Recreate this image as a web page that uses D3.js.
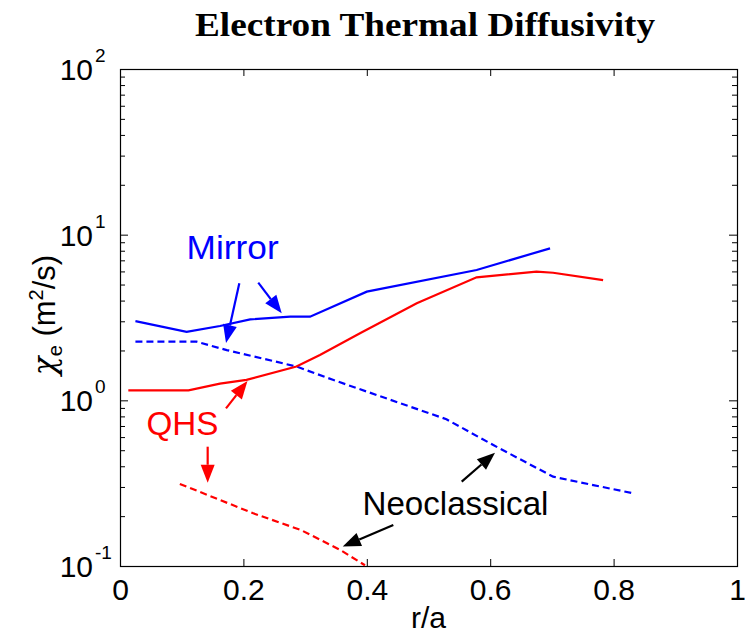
<!DOCTYPE html>
<html>
<head>
<meta charset="utf-8">
<script src="https://cdn.jsdelivr.net/npm/d3@7"></script>
<style>
  html, body { margin: 0; padding: 0; background: #fff; }
  svg { display: block; }
  text { font-family: Arial, "Liberation Sans", Helvetica, sans-serif; }
</style>
</head>
<body>
<svg id="chart" width="745" height="633"></svg>
<script>
// r/a grid and chi_e values (m^2/s) for each profile
const mirrorR     = [0.025, 0.108, 0.162, 0.211, 0.276, 0.308, 0.400, 0.578, 0.697];
const mirrorChi   = [3.01, 2.59, 2.81, 3.08, 3.20, 3.20, 4.53, 6.12, 8.27];

const mirrorNeoR   = [0.025, 0.124, 0.173, 0.286, 0.345, 0.529, 0.605, 0.702, 0.767, 0.831];
const mirrorNeoChi = [2.26, 2.26, 2.01, 1.60, 1.33, 0.769, 0.537, 0.346, 0.308, 0.275];

const qhsR     = [0.0135, 0.111, 0.162, 0.205, 0.286, 0.324, 0.389, 0.481, 0.578, 0.675, 0.702, 0.783];
const qhsChi   = [1.15, 1.15, 1.26, 1.33, 1.60, 1.88, 2.54, 3.86, 5.53, 5.98, 5.89, 5.32];

const qhsNeoR   = [0.097, 0.216, 0.293, 0.357, 0.397];
const qhsNeoChi = [0.313, 0.208, 0.165, 0.125, 0.101];

// axis ticks
const xTicks = [0, 0.2, 0.4, 0.6, 0.8, 1];
const xTickLabels = ["0", "0.2", "0.4", "0.6", "0.8", "1"];
const yMajor = [0.1, 1, 10, 100];
const yExponents = ["-1", "0", "1", "2"];

// annotation labels [text, r, chi, colour, width]
const labels = [
  ["Mirror", 0.108, 7.13, "#0000ff", 92],
  ["QHS", 0.043, 0.618, "#ff0000", 72],
  ["Neoclassical", 0.393, 0.203, "#000000", 186]
];
// annotation arrows [r0, chi0, r1, chi1, colour]
const arrows = [
  [0.1934, 5.09, 0.1718, 2.22, "#0000ff"],
  [0.2241, 5.13, 0.2621, 3.35, "#0000ff"],
  [0.1718, 0.895, 0.2066, 1.31, "#ff0000"],
  [0.1421, 0.525, 0.1421, 0.318, "#ff0000"],
  [0.5538, 0.323, 0.6078, 0.483, "#000000"],
  [0.4430, 0.177, 0.3610, 0.131, "#000000"]
];

const svg = d3.select("#chart");
const W = 745, H = 633;
const L = 120, R = 737, T = 69, B = 566;

const x = d3.scaleLinear().domain([0, 1]).range([L, R]);
const y = d3.scaleLog().domain([0.1, 100]).range([B, T]);

svg.append("rect").attr("width", W).attr("height", H).attr("fill", "#fff");

// title
svg.append("text")
  .attr("x", 425).attr("y", 36)
  .attr("text-anchor", "middle")
  .style("font-family", "'Times New Roman', 'Liberation Serif', serif")
  .style("font-weight", "bold")
  .style("font-size", "34px")
  .attr("textLength", 460).attr("lengthAdjust", "spacingAndGlyphs")
  .text("Electron Thermal Diffusivity");

// minor ticks for the log axis
const yMinor = [];
for (let d = 0.1; d < 100; d *= 10) {
  for (let k = 2; k <= 9; k++) yMinor.push(+(d * k).toPrecision(3));
}

const axes = svg.append("g").attr("stroke-width", 1);

function styleAxis(g) {
  g.select(".domain").remove();
  g.selectAll(".tick line").attr("stroke", "#000");
}

// x ticks (bottom and top, pointing inward)
axes.append("g").attr("transform", `translate(0,${B})`)
  .call(d3.axisBottom(x).tickValues(xTicks).tickSize(-7).tickFormat((d, i) => xTickLabels[i]).tickPadding(34))
  .call(styleAxis)
  .call(g => g.selectAll(".tick text").attr("dy", 0).attr("fill", "#000").style("font-size", "30px"));
axes.append("g").attr("transform", `translate(0,${T})`)
  .call(d3.axisTop(x).tickValues(xTicks).tickSize(-7).tickFormat(""))
  .call(styleAxis);

// y ticks (left and right, major and minor)
axes.append("g").attr("transform", `translate(${L},0)`)
  .call(d3.axisLeft(y).tickValues(yMajor).tickSize(-8).tickFormat(""))
  .call(styleAxis);
axes.append("g").attr("transform", `translate(${L},0)`)
  .call(d3.axisLeft(y).tickValues(yMinor).tickSize(-5).tickFormat(""))
  .call(styleAxis);
axes.append("g").attr("transform", `translate(${R},0)`)
  .call(d3.axisRight(y).tickValues(yMajor).tickSize(-8).tickFormat(""))
  .call(styleAxis);
axes.append("g").attr("transform", `translate(${R},0)`)
  .call(d3.axisRight(y).tickValues(yMinor).tickSize(-5).tickFormat(""))
  .call(styleAxis);

// frame
svg.append("rect")
  .attr("x", L + 0.5).attr("y", T + 0.5)
  .attr("width", R - L).attr("height", B - T)
  .attr("fill", "none").attr("stroke", "#000").attr("stroke-width", 1.2);

// y tick labels: 10 with superscript exponent
const yl = svg.append("g");
yMajor.forEach((v, i) => {
  yl.append("text")
    .attr("x", 93).attr("y", y(v) + 11)
    .attr("text-anchor", "end")
    .style("font-size", "30px").attr("fill", "#000")
    .text("10");
  yl.append("text")
    .attr("x", 95).attr("y", y(v) - 7)
    .style("font-size", "19px").attr("fill", "#000")
    .text(yExponents[i]);
});

// x axis title
svg.append("text")
  .attr("x", x(0.5)).attr("y", 628)
  .attr("text-anchor", "middle")
  .style("font-size", "30px")
  .text("r/a");

// y axis title
const yt = svg.append("text")
  .attr("transform", `translate(55,${315}) rotate(-90)`)
  .attr("text-anchor", "middle")
  .style("font-size", "31px");
yt.append("tspan").style("font-family", "'DejaVu Serif', 'Liberation Serif', serif").style("font-style", "italic").text("χ");
yt.append("tspan").attr("dy", 7).style("font-size", "20px").text("e");
yt.append("tspan").attr("dy", -7).text(" (m");
yt.append("tspan").attr("dy", -12).style("font-size", "20px").text("2");
yt.append("tspan").attr("dy", 12).text("/s)");

// data lines
const plot = svg.append("g");
const line = d3.line().x(d => x(d[0])).y(d => y(d[1]));
const zip = (a, b) => a.map((v, i) => [v, b[i]]);

plot.append("path").datum(zip(mirrorR, mirrorChi))
  .attr("d", line).attr("fill", "none").attr("stroke", "#0000ff").attr("stroke-width", 2.2);
plot.append("path").datum(zip(mirrorNeoR, mirrorNeoChi))
  .attr("d", line).attr("fill", "none").attr("stroke", "#0000ff").attr("stroke-width", 2.2)
  .attr("stroke-dasharray", "7,4");
plot.append("path").datum(zip(qhsR, qhsChi))
  .attr("d", line).attr("fill", "none").attr("stroke", "#ff0000").attr("stroke-width", 2.2);
plot.append("path").datum(zip(qhsNeoR, qhsNeoChi))
  .attr("d", line).attr("fill", "none").attr("stroke", "#ff0000").attr("stroke-width", 2.2)
  .attr("stroke-dasharray", "7,4");

// annotation text
labels.forEach(([txt, r, v, c, w]) => {
  svg.append("text")
    .attr("x", x(r)).attr("y", y(v))
    .attr("fill", c)
    .style("font-size", "34px")
    .attr("textLength", w).attr("lengthAdjust", "spacingAndGlyphs")
    .text(txt);
});

// annotation arrows with filled heads
const ag = svg.append("g");
arrows.forEach(([r0, v0, r1, v1, c]) => {
  const x0 = x(r0), y0 = y(v0), x1 = x(r1), y1 = y(v1);
  const ang = Math.atan2(y1 - y0, x1 - x0);
  const hl = 18, hw = 7;
  const bx = x1 - hl * Math.cos(ang), by = y1 - hl * Math.sin(ang);
  ag.append("line")
    .attr("x1", x0).attr("y1", y0).attr("x2", bx).attr("y2", by)
    .attr("stroke", c).attr("stroke-width", 2.2);
  const px = -Math.sin(ang) * hw, py = Math.cos(ang) * hw;
  ag.append("polygon")
    .attr("points", [[x1, y1], [bx + px, by + py], [bx - px, by - py]].map(p => p.join(",")).join(" "))
    .attr("fill", c);
});
</script>
</body>
</html>
